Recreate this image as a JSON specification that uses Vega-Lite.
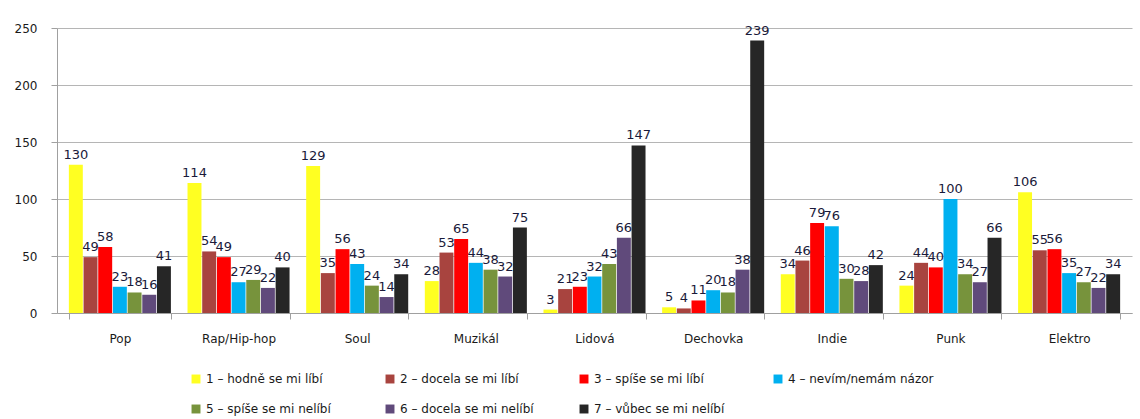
{
  "$schema": "https://vega.github.io/schema/vega-lite/v6.json",
  "autosize": {"type": "none"},
  "padding": {"left": 57, "top": 28, "right": 8, "bottom": 106},
  "width": 1075,
  "height": 285,
  "background": "white",
  "config": {
    "font": "DejaVu Sans",
    "view": {"stroke": null}
  },
  "data": {
    "values": [
      {"genre": "Pop", "answer": "1 – hodně se mi líbí", "count": 130},
      {"genre": "Pop", "answer": "2 – docela se mi líbí", "count": 49},
      {"genre": "Pop", "answer": "3 – spíše se mi líbí", "count": 58},
      {"genre": "Pop", "answer": "4 – nevím/nemám názor", "count": 23},
      {"genre": "Pop", "answer": "5 – spíše se mi nelíbí", "count": 18},
      {"genre": "Pop", "answer": "6 – docela se mi nelíbí", "count": 16},
      {"genre": "Pop", "answer": "7 – vůbec se mi nelíbí", "count": 41},
      {"genre": "Rap/Hip-hop", "answer": "1 – hodně se mi líbí", "count": 114},
      {"genre": "Rap/Hip-hop", "answer": "2 – docela se mi líbí", "count": 54},
      {"genre": "Rap/Hip-hop", "answer": "3 – spíše se mi líbí", "count": 49},
      {"genre": "Rap/Hip-hop", "answer": "4 – nevím/nemám názor", "count": 27},
      {"genre": "Rap/Hip-hop", "answer": "5 – spíše se mi nelíbí", "count": 29},
      {"genre": "Rap/Hip-hop", "answer": "6 – docela se mi nelíbí", "count": 22},
      {"genre": "Rap/Hip-hop", "answer": "7 – vůbec se mi nelíbí", "count": 40},
      {"genre": "Soul", "answer": "1 – hodně se mi líbí", "count": 129},
      {"genre": "Soul", "answer": "2 – docela se mi líbí", "count": 35},
      {"genre": "Soul", "answer": "3 – spíše se mi líbí", "count": 56},
      {"genre": "Soul", "answer": "4 – nevím/nemám názor", "count": 43},
      {"genre": "Soul", "answer": "5 – spíše se mi nelíbí", "count": 24},
      {"genre": "Soul", "answer": "6 – docela se mi nelíbí", "count": 14},
      {"genre": "Soul", "answer": "7 – vůbec se mi nelíbí", "count": 34},
      {"genre": "Muzikál", "answer": "1 – hodně se mi líbí", "count": 28},
      {"genre": "Muzikál", "answer": "2 – docela se mi líbí", "count": 53},
      {"genre": "Muzikál", "answer": "3 – spíše se mi líbí", "count": 65},
      {"genre": "Muzikál", "answer": "4 – nevím/nemám názor", "count": 44},
      {"genre": "Muzikál", "answer": "5 – spíše se mi nelíbí", "count": 38},
      {"genre": "Muzikál", "answer": "6 – docela se mi nelíbí", "count": 32},
      {"genre": "Muzikál", "answer": "7 – vůbec se mi nelíbí", "count": 75},
      {"genre": "Lidová", "answer": "1 – hodně se mi líbí", "count": 3},
      {"genre": "Lidová", "answer": "2 – docela se mi líbí", "count": 21},
      {"genre": "Lidová", "answer": "3 – spíše se mi líbí", "count": 23},
      {"genre": "Lidová", "answer": "4 – nevím/nemám názor", "count": 32},
      {"genre": "Lidová", "answer": "5 – spíše se mi nelíbí", "count": 43},
      {"genre": "Lidová", "answer": "6 – docela se mi nelíbí", "count": 66},
      {"genre": "Lidová", "answer": "7 – vůbec se mi nelíbí", "count": 147},
      {"genre": "Dechovka", "answer": "1 – hodně se mi líbí", "count": 5},
      {"genre": "Dechovka", "answer": "2 – docela se mi líbí", "count": 4},
      {"genre": "Dechovka", "answer": "3 – spíše se mi líbí", "count": 11},
      {"genre": "Dechovka", "answer": "4 – nevím/nemám názor", "count": 20},
      {"genre": "Dechovka", "answer": "5 – spíše se mi nelíbí", "count": 18},
      {"genre": "Dechovka", "answer": "6 – docela se mi nelíbí", "count": 38},
      {"genre": "Dechovka", "answer": "7 – vůbec se mi nelíbí", "count": 239},
      {"genre": "Indie", "answer": "1 – hodně se mi líbí", "count": 34},
      {"genre": "Indie", "answer": "2 – docela se mi líbí", "count": 46},
      {"genre": "Indie", "answer": "3 – spíše se mi líbí", "count": 79},
      {"genre": "Indie", "answer": "4 – nevím/nemám názor", "count": 76},
      {"genre": "Indie", "answer": "5 – spíše se mi nelíbí", "count": 30},
      {"genre": "Indie", "answer": "6 – docela se mi nelíbí", "count": 28},
      {"genre": "Indie", "answer": "7 – vůbec se mi nelíbí", "count": 42},
      {"genre": "Punk", "answer": "1 – hodně se mi líbí", "count": 24},
      {"genre": "Punk", "answer": "2 – docela se mi líbí", "count": 44},
      {"genre": "Punk", "answer": "3 – spíše se mi líbí", "count": 40},
      {"genre": "Punk", "answer": "4 – nevím/nemám názor", "count": 100},
      {"genre": "Punk", "answer": "5 – spíše se mi nelíbí", "count": 34},
      {"genre": "Punk", "answer": "6 – docela se mi nelíbí", "count": 27},
      {"genre": "Punk", "answer": "7 – vůbec se mi nelíbí", "count": 66},
      {"genre": "Elektro", "answer": "1 – hodně se mi líbí", "count": 106},
      {"genre": "Elektro", "answer": "2 – docela se mi líbí", "count": 55},
      {"genre": "Elektro", "answer": "3 – spíše se mi líbí", "count": 56},
      {"genre": "Elektro", "answer": "4 – nevím/nemám názor", "count": 35},
      {"genre": "Elektro", "answer": "5 – spíše se mi nelíbí", "count": 27},
      {"genre": "Elektro", "answer": "6 – docela se mi nelíbí", "count": 22},
      {"genre": "Elektro", "answer": "7 – vůbec se mi nelíbí", "count": 34}
    ]
  },
  "encoding": {
    "x": {
      "field": "genre",
      "type": "nominal",
      "sort": null,
      "scale": {"paddingInner": 0.14, "paddingOuter": 0.1},
      "axis": {
        "title": null,
        "labelAngle": 0,
        "labelFontSize": 12,
        "labelColor": "#1a1a1a",
        "labelPadding": 14,
        "domainColor": "#a0a0a0",
        "tickColor": "#a0a0a0",
        "tickBand": "extent",
        "tickSize": 6
      }
    },
    "xOffset": {
      "field": "answer",
      "type": "nominal",
      "sort": null,
      "scale": {"paddingInner": 0.05}
    },
    "y": {
      "field": "count",
      "type": "quantitative",
      "scale": {"domain": [0, 250]},
      "axis": {
        "title": null,
        "values": [0, 50, 100, 150, 200, 250],
        "labelFontSize": 12,
        "labelColor": "#1a1a1a",
        "labelPadding": 14,
        "domainColor": "#a0a0a0",
        "tickColor": "#a0a0a0",
        "tickSize": 6,
        "gridColor": "#b5b5b5",
        "gridWidth": 1.2
      }
    }
  },
  "layer": [
    {
      "mark": {"type": "bar"},
      "encoding": {
        "color": {
          "field": "answer",
          "type": "nominal",
          "sort": null,
          "scale": {
            "domain": ["1 – hodně se mi líbí", "2 – docela se mi líbí", "3 – spíše se mi líbí", "4 – nevím/nemám názor", "5 – spíše se mi nelíbí", "6 – docela se mi nelíbí", "7 – vůbec se mi nelíbí"],
            "range": ["#FFFF22", "#A8443F", "#FF0000", "#00B0F0", "#77933C", "#604A7B", "#262626"]
          },
          "legend": {
            "title": null,
            "orient": "none",
            "legendX": 133,
            "legendY": 345,
            "direction": "horizontal",
            "columns": 4,
            "gridAlign": "all",
            "columnPadding": 32,
            "rowPadding": 18,
            "symbolType": "square",
            "symbolSize": 80,
            "symbolStrokeWidth": 0,
            "labelFontSize": 12,
            "labelColor": "#1a1a1a",
            "labelLimit": 250
          }
        }
      }
    },
    {
      "mark": {"type": "text", "baseline": "bottom", "dy": -3, "fontSize": 13, "color": "#1a1a3a"},
      "encoding": {
        "text": {"field": "count", "type": "quantitative"}
      }
    }
  ]
}
